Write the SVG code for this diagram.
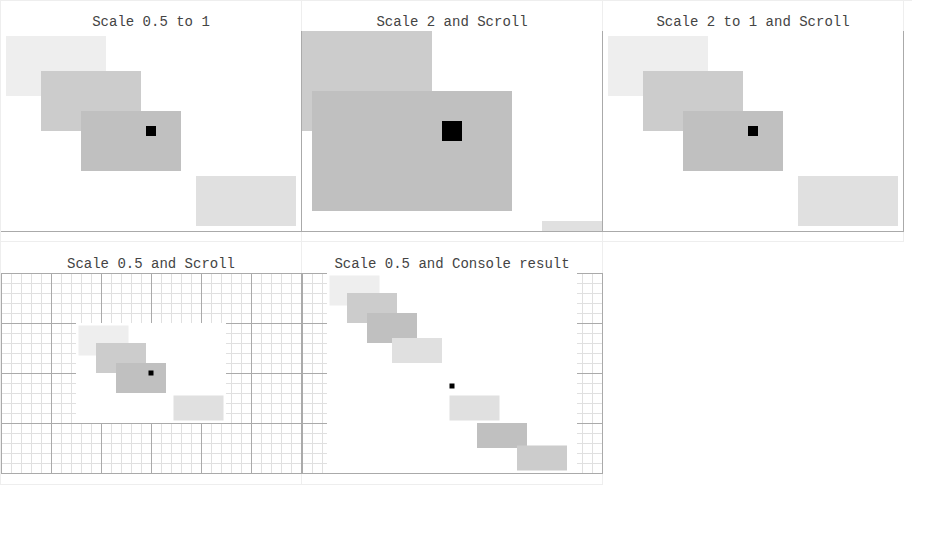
<svg xmlns="http://www.w3.org/2000/svg" xmlns:xlink="http://www.w3.org/1999/xlink" width="930" height="540" viewBox="0 0 930 540">
<style>
.cell{stroke:#eeeeee;stroke-width:1;fill:none}
.bd{stroke:#aaaaaa;stroke-width:1;fill:none}
.minor{stroke:#e0e0e0;stroke-width:1;fill:none}
.major{stroke:#aaaaaa;stroke-width:1;fill:none}
.t{font-family:"Liberation Mono","Courier New",monospace;font-size:14px;fill:#444444;text-anchor:middle}
.a{fill:#eeeeee}.b{fill:#cccccc}.c{fill:#c0c0c0}.d{fill:#e0e0e0}.k{fill:#000000}.w{fill:#ffffff}
</style>
<defs>
<g id="grid">
<path class="minor" d="M0.5 0v200M10.5 0v200M20.5 0v200M30.5 0v200M40.5 0v200M50.5 0v200M60.5 0v200M70.5 0v200M80.5 0v200M90.5 0v200M100.5 0v200M110.5 0v200M120.5 0v200M130.5 0v200M140.5 0v200M150.5 0v200M160.5 0v200M170.5 0v200M180.5 0v200M190.5 0v200M200.5 0v200M210.5 0v200M220.5 0v200M230.5 0v200M240.5 0v200M250.5 0v200M260.5 0v200M270.5 0v200M280.5 0v200M290.5 0v200M0 0.5h300M0 10.5h300M0 20.5h300M0 30.5h300M0 40.5h300M0 50.5h300M0 60.5h300M0 70.5h300M0 80.5h300M0 90.5h300M0 100.5h300M0 110.5h300M0 120.5h300M0 130.5h300M0 140.5h300M0 150.5h300M0 160.5h300M0 170.5h300M0 180.5h300M0 190.5h300"/>
<path class="major" d="M0.5 0v200M50.5 0v200M100.5 0v200M150.5 0v200M200.5 0v200M250.5 0v200M0 0.5h300M0 50.5h300M0 100.5h300M0 150.5h300"/>
</g>
</defs>
<rect width="930" height="540" fill="#ffffff"/>
<g id="cells">
<path class="cell" d="M0 0.5h912M0.5 0v484M301.5 0v484M602.5 0v484M903.5 0v242M0 241.5h904M0 484.5h603"/>
</g>
<g id="panel1">
<text class="t" x="151" y="26">Scale 0.5 to 1</text>
<rect class="a" x="6" y="36" width="100" height="60"/>
<rect class="b" x="41" y="71" width="100" height="60"/>
<rect class="c" x="81" y="111" width="100" height="60"/>
<rect class="k" x="146" y="126" width="10" height="10"/>
<rect class="d" x="196" y="176" width="100" height="50"/>
</g>
<g id="panel2">
<text class="t" x="452" y="26">Scale 2 and Scroll</text>
<rect class="b" x="302" y="31" width="130" height="100"/>
<rect class="c" x="312" y="91" width="200" height="120"/>
<rect class="k" x="442" y="121" width="20" height="20"/>
<rect class="d" x="542" y="221" width="60" height="10"/>
</g>
<g id="panel3">
<text class="t" x="753" y="26">Scale 2 to 1 and Scroll</text>
<rect class="a" x="608" y="36" width="100" height="60"/>
<rect class="b" x="643" y="71" width="100" height="60"/>
<rect class="c" x="683" y="111" width="100" height="60"/>
<rect class="k" x="748" y="126" width="10" height="10"/>
<rect class="d" x="798" y="176" width="100" height="50"/>
</g>
<g id="panel4">
<text class="t" x="151" y="268">Scale 0.5 and Scroll</text>
<use xlink:href="#grid" href="#grid" x="1" y="273"/>
<rect class="w" x="76" y="323" width="150" height="100"/>
<rect class="a" x="78.5" y="325.5" width="50" height="30"/>
<rect class="b" x="96" y="343" width="50" height="30"/>
<rect class="c" x="116" y="363" width="50" height="30"/>
<rect class="k" x="148.5" y="370.5" width="5" height="5"/>
<rect class="d" x="173.5" y="395.5" width="50" height="25"/>
</g>
<g id="panel5">
<text class="t" x="452" y="268">Scale 0.5 and Console result</text>
<use xlink:href="#grid" href="#grid" x="302" y="273"/>
<rect class="w" x="327" y="273" width="250" height="200"/>
<rect class="a" x="329.5" y="275.5" width="50" height="30"/>
<rect class="b" x="347" y="293" width="50" height="30"/>
<rect class="c" x="367" y="313" width="50" height="30"/>
<rect class="d" x="392" y="338" width="50" height="25"/>
<rect class="k" x="449.5" y="383.5" width="5" height="5"/>
<rect class="d" x="449.5" y="395.5" width="50" height="25"/>
<rect class="c" x="477" y="423" width="50" height="25"/>
<rect class="b" x="517" y="445.5" width="50" height="25"/>
</g>
<g id="borders">
<path class="bd" d="M1 231.5h903M301.5 31v200M602.5 31v200M903.5 31v201M1 473.5h602M301.5 273v200M602.5 273v201"/>
</g>
</svg>
